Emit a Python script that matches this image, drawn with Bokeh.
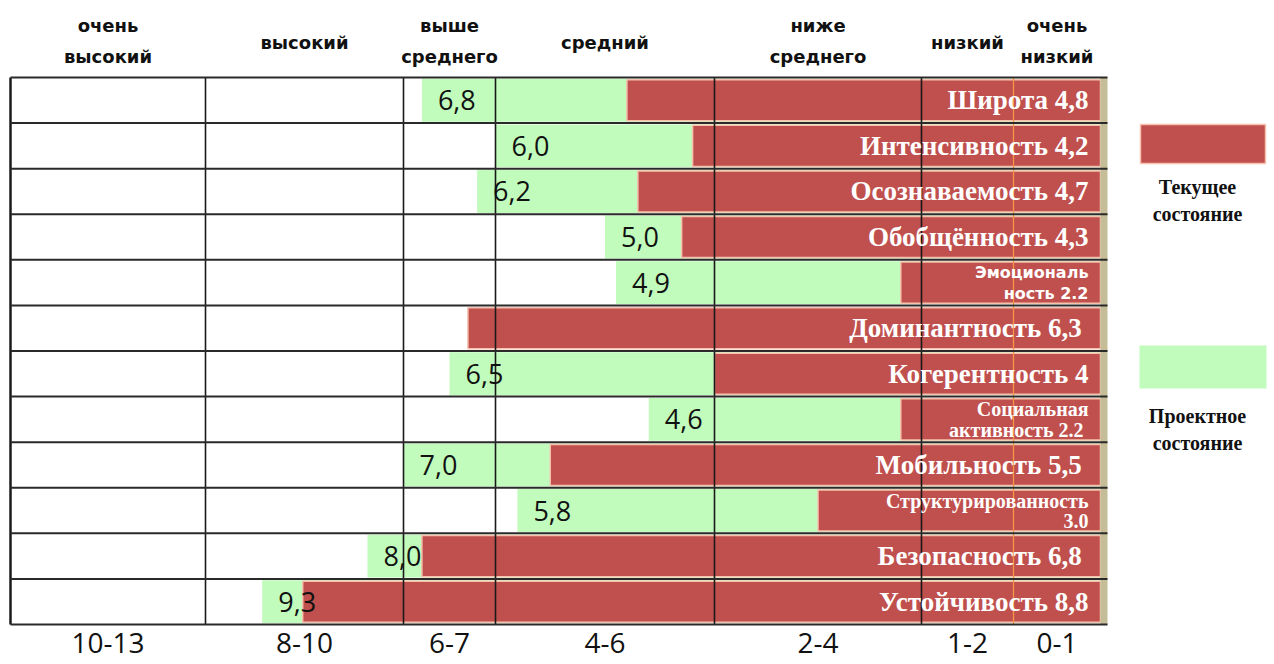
import numpy as np
from bokeh.plotting import figure
from bokeh.models import ColumnDataSource, Range1d
from bokeh.core.properties import value
from bokeh.embed import file_html
from bokeh.resources import INLINE

# ---------------- data ----------------
names = ["Широта 4,8", "Интенсивность 4,2", "Осознаваемость 4,7", "Обобщённость 4,3",
         "Эмоциональ\nность 2.2", "Доминантность  6,3", "Когерентность 4",
         "Социальная\nактивность  2.2", "Мобильность  5,5", "Структурированность\n3.0",
         "Безопасность  6,8", "Устойчивость 8,8"]
current = [4.8, 4.2, 4.7, 4.3, 2.2, 6.3, 4.0, 2.2, 5.5, 3.0, 6.8, 8.8]
project = [6.8, 6.0, 6.2, 5.0, 4.9, None, 6.5, 4.6, 7.0, 5.8, 8.0, 9.3]
project_labels = ["6,8", "6,0", "6,2", "5,0", "4,9", "", "6,5", "4,6", "7,0", "5,8", "8,0", "9,3"]

zone_top = ["очень\nвысокий", "высокий", "выше\nсреднего", "средний",
            "ниже\nсреднего", "низкий", "очень\nнизкий"]
zone_bottom = ["10-13", "8-10", "6-7", "4-6", "2-4", "1-2", "0-1"]
zone_edges = [13, 10, 7, 6, 4, 2, 1, 0]
legend_labels = ["Текущее\nсостояние", "Проектное\nсостояние"]

# ---------------- scale (piecewise, reversed: high values on the left) ----------------
VAL_KNOTS = [0, 1, 2, 4, 6, 7, 8, 10, 13]
POS_KNOTS = [1100, 1013, 921, 714, 495, 403, 367, 205, 10]


def u(v):
    return float(np.interp(v, VAL_KNOTS, POS_KNOTS))


ROW_PX = (624 - 77) / 12.0


def ry(py):
    return (py - 77) / ROW_PX - 0.5


RED = "#C0504D"
GREEN = "#C1FCBC"
W, H = 1274, 664
n = len(names)
rows = list(range(n))

p = figure(width=W, height=H, output_backend="svg", toolbar_location=None,
           x_range=Range1d(0, W), y_range=Range1d(ry(H), ry(0)),
           min_border=0, outline_line_color=None)
p.axis.visible = False
p.grid.visible = False
p.background_fill_color = "white"

# green (project) bars
g_rows = [r for r in rows if project[r] is not None]
gsrc = ColumnDataSource(dict(
    left=[u(project[r]) for r in g_rows],
    right=[u(0)] * len(g_rows),
    top=[r - 0.47 for r in g_rows],
    bottom=[r + 0.47 for r in g_rows],
    y=[r for r in g_rows],
    lab=[project_labels[r] for r in g_rows]))
p.quad(left="left", right="right", top="top", bottom="bottom", source=gsrc,
       fill_color=GREEN, line_color=None)

# red (current) bars
rsrc = ColumnDataSource(dict(
    left=[u(c) for c in current], right=[u(0)] * n,
    top=[r - 0.45 for r in rows], bottom=[r + 0.45 for r in rows]))
p.quad(left="left", right="right", top="top", bottom="bottom", source=rsrc,
       fill_color=RED, line_color="#F6C2AE", line_width=1.5)

# khaki strip at the right edge
p.quad(left=[u(0)], right=[1107], top=[-0.5], bottom=[n - 0.5],
       fill_color="#C4BD97", line_color=None)

# vertical grid lines
for e in zone_edges[:-2]:
    p.segment(x0=[u(e)], x1=[u(e)], y0=[-0.5], y1=[n - 0.5],
              line_color="#1a1a1a", line_width=2.5 if e == 13 else 1.6)
p.segment(x0=[u(1)], x1=[u(1)], y0=[-0.5], y1=[n - 0.5],
          line_color="#F79646", line_width=1.3)
# horizontal row lines
hy = [r - 0.5 for r in range(n + 1)]
p.segment(x0=[u(13)] * len(hy), x1=[1107] * len(hy), y0=hy, y1=hy,
          line_color="#2a2a2a", line_width=2)

# project value labels
p.text(x="left", y="y", text="lab", source=gsrc, x_offset=16,
       text_font=value("Open Sans"), text_font_size="27px",
       text_baseline="middle", text_align="left", text_color="#111111")

# current labels (white, right aligned)
one_x, one_y, one_t = [], [], []
two_x, two_y, two_t, two_f, two_s = [], [], [], [], []
for r, nm in enumerate(names):
    parts = nm.split("\n")
    if len(parts) == 1:
        one_x.append(u(0)); one_y.append(r); one_t.append(nm)
    else:
        sans = nm.startswith("Эмоц")
        for k, part in enumerate(parts):
            two_x.append(u(0)); two_y.append(r - 0.22 + 0.46 * k); two_t.append(part)
            two_f.append("DejaVu Sans" if sans else "Liberation Serif")
            two_s.append("16px" if sans else "20px")
p.text(x=one_x, y=one_y, text=one_t, x_offset=-12,
       text_font=value("Liberation Serif"), text_font_style="bold",
       text_font_size="27px", text_baseline="middle", text_align="right",
       text_color="white")
tsrc = ColumnDataSource(dict(x=two_x, y=two_y, t=two_t, f=two_f, s=two_s))
p.text(x="x", y="y", text="t", source=tsrc, x_offset=-12,
       text_font="f", text_font_style="bold", text_font_size="s",
       text_baseline="middle", text_align="right", text_color="white")

# zone labels top & bottom
tx, tyy, tt = [], [], []
bx, byy, bt = [], [], []
for i in range(len(zone_top)):
    cx = (u(zone_edges[i]) + u(zone_edges[i + 1])) / 2
    parts = zone_top[i].split("\n")
    if len(parts) == 1:
        tx.append(cx); tyy.append(ry(42)); tt.append(parts[0])
    else:
        tx += [cx, cx]; tyy += [ry(25), ry(56)]; tt += parts
    bx.append(cx); byy.append(ry(642)); bt.append(zone_bottom[i])
p.text(x=tx, y=tyy, text=tt, text_font=value("DejaVu Sans"), text_font_style="bold",
       text_font_size="18px", text_baseline="middle", text_align="center",
       text_color="#111111")
p.text(x=bx, y=byy, text=bt, text_font=value("Open Sans"),
       text_font_size="28px", text_baseline="middle", text_align="center",
       text_color="#111111")

# legend
p.quad(left=[1140], right=[1265], top=[ry(124)], bottom=[ry(163)],
       fill_color=RED, line_color="#F6C2AE", line_width=1.5)
p.quad(left=[1139], right=[1266], top=[ry(345)], bottom=[ry(388)],
       fill_color=GREEN, line_color=None)
lx, ly, lt = [], [], []
for lab, y0 in zip(legend_labels, [186, 415]):
    a, b = lab.split("\n")
    lx += [1197, 1197]; ly += [ry(y0), ry(y0 + 27)]; lt += [a, b]
p.text(x=lx, y=ly, text=lt, text_font=value("Liberation Serif"), text_font_style="bold",
       text_font_size="20px", text_baseline="middle", text_align="center",
       text_color="#111111")

open("out.html", "w").write(file_html(p, INLINE))
